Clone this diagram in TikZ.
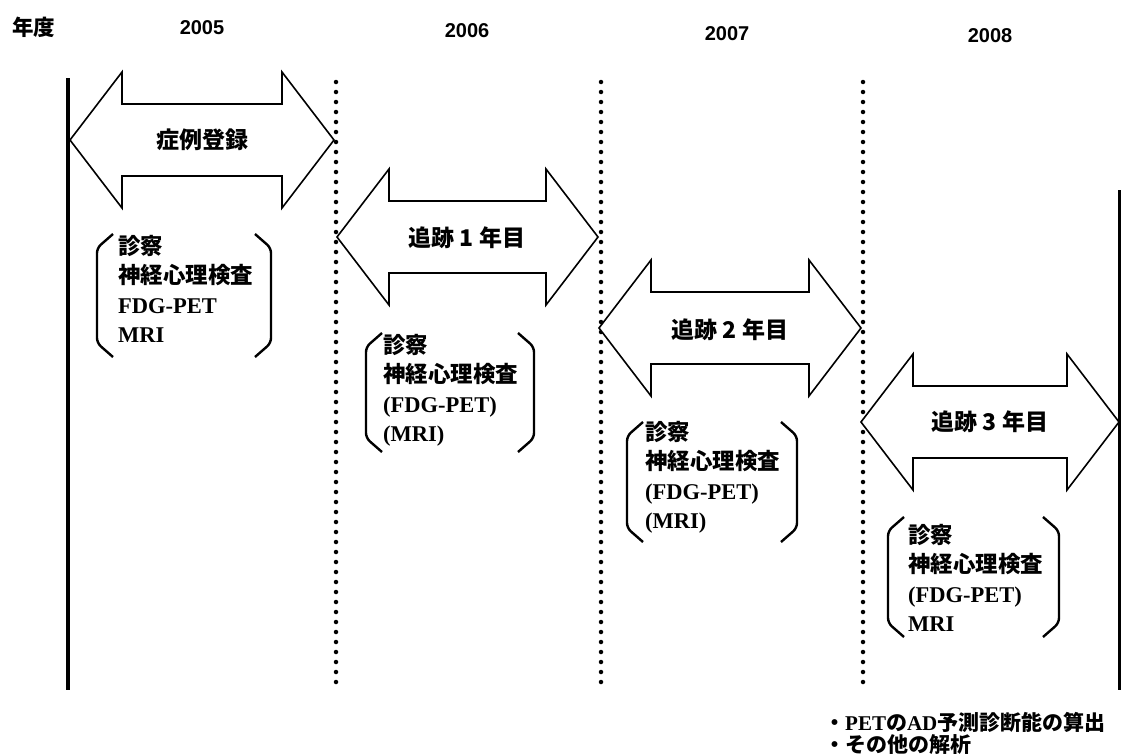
\documentclass[tikz,border=0pt]{standalone}
\usepackage{fontspec}
\setmainfont{Liberation Serif}
\newfontfamily\lat{Liberation Serif}
\newfontfamily\jpfam{Noto Sans CJK JP}
\newcommand{\jp}{\jpfam\bfseries}
\newfontfamily\yr{Liberation Sans}
\tikzset{
  dblarrowpath/.style={draw=black, line width=1.6pt, line join=miter, fill=white},
  arrowlbl/.style={font=\jp\fontsize{23}{26}\selectfont, inner sep=0pt},
  yearlbl/.style={font=\yr\bfseries\fontsize{20}{24}\selectfont, inner sep=0pt},
  itemtxt/.style={font=\lat\bfseries\fontsize{22.5}{29.5}\selectfont, align=left, anchor=north west, inner sep=0pt},
  notetxt/.style={font=\lat\bfseries\fontsize{21}{26}\selectfont, anchor=west, inner sep=0pt},
  brk/.style={line width=2.4pt, rounded corners=5pt},
  dotline/.style={line width=4.5pt, line cap=round, dash pattern=on 0pt off 10pt},
  solidline/.style={line width=3.5pt},
}
% double arrow: #1 left tip x, #2 right tip x, #3 centre y
\newcommand{\myDblArrow}[3]{%
  \draw[dblarrowpath] (#1,#3) -- ({#1+52},{#3-68}) -- ({#1+52},{#3-36}) -- ({#2-52},{#3-36})
    -- ({#2-52},{#3-68}) -- (#2,#3) -- ({#2-52},{#3+68}) -- ({#2-52},{#3+36})
    -- ({#1+52},{#3+36}) -- ({#1+52},{#3+68}) -- cycle;}
% brackets: #1 left x, #2 right x, #3 top y, #4 bottom y
\newcommand{\myBrackets}[4]{%
  \draw[brk] ({#1+16},#3) -- (#1,{#3+14}) -- (#1,{#4-14}) -- ({#1+16},#4);
  \draw[brk] ({#2-16},#3) -- (#2,{#3+14}) -- (#2,{#4-14}) -- ({#2-16},#4);}
\begin{document}
\begin{tikzpicture}[x=1pt,y=-1pt]
\useasboundingbox (0,0) rectangle (1121,755);
% header
\node[arrowlbl, font=\jp\fontsize{21.5}{24}\selectfont] (nendo) at (34,27) {年度};
\node[yearlbl] (y2005) at (202,28) {2005};
\node[yearlbl] (y2006) at (467,31) {2006};
\node[yearlbl] (y2007) at (727,34) {2007};
\node[yearlbl] (y2008) at (990,36) {2008};
% vertical lines
\coordinate (l0t) at (68,78);   \coordinate (l0b) at (68,690);
\coordinate (l1t) at (336,82);  \coordinate (l1b) at (336,688);
\coordinate (l2t) at (601,82);  \coordinate (l2b) at (601,688);
\coordinate (l3t) at (863,82);  \coordinate (l3b) at (863,688);
\coordinate (l4t) at (1119,190); \coordinate (l4b) at (1119,690);
\draw[solidline] (l0t) -- (l0b);
\draw[dotline] (l1t) -- (l1b);
\draw[dotline] (l2t) -- (l2b);
\draw[dotline] (l3t) -- (l3b);
\draw[solidline, line width=3pt] (l4t) -- (l4b);
% arrows
\myDblArrow{70}{334}{140}
\node[arrowlbl] (a1) at (202,140) {症例登録};
\myDblArrow{337}{598}{237}
\node[arrowlbl] (a2) at (467,238) {追跡 1 年目};
\myDblArrow{599}{861}{328}
\node[arrowlbl] (a3) at (730,330) {追跡 2 年目};
\myDblArrow{861}{1119}{422}
\node[arrowlbl] (a4) at (990,422) {追跡 3 年目};
% bracket boxes
\myBrackets{97}{271}{234}{357}
\node[itemtxt] (b1) at (118,235) {{\jp 診察}\\{\jp 神経心理検査}\\FDG-PET\\MRI};
\myBrackets{366}{534}{333}{452}
\node[itemtxt] (b2) at (383,334) {{\jp 診察}\\{\jp 神経心理検査}\\(FDG-PET)\\(MRI)};
\myBrackets{627}{797}{422}{542}
\node[itemtxt] (b3) at (645,421) {{\jp 診察}\\{\jp 神経心理検査}\\(FDG-PET)\\(MRI)};
\myBrackets{888}{1059}{517}{637}
\node[itemtxt] (b4) at (908,524) {{\jp 診察}\\{\jp 神経心理検査}\\(FDG-PET)\\MRI};
% notes
\node[notetxt] (n1) at (824,722) {{\jp ・}PET{\jp の}AD{\jp 予測診断能の算出}};
\node[notetxt] (n2) at (824,745) {{\jp ・その他の解析}};
\end{tikzpicture}
\end{document}
